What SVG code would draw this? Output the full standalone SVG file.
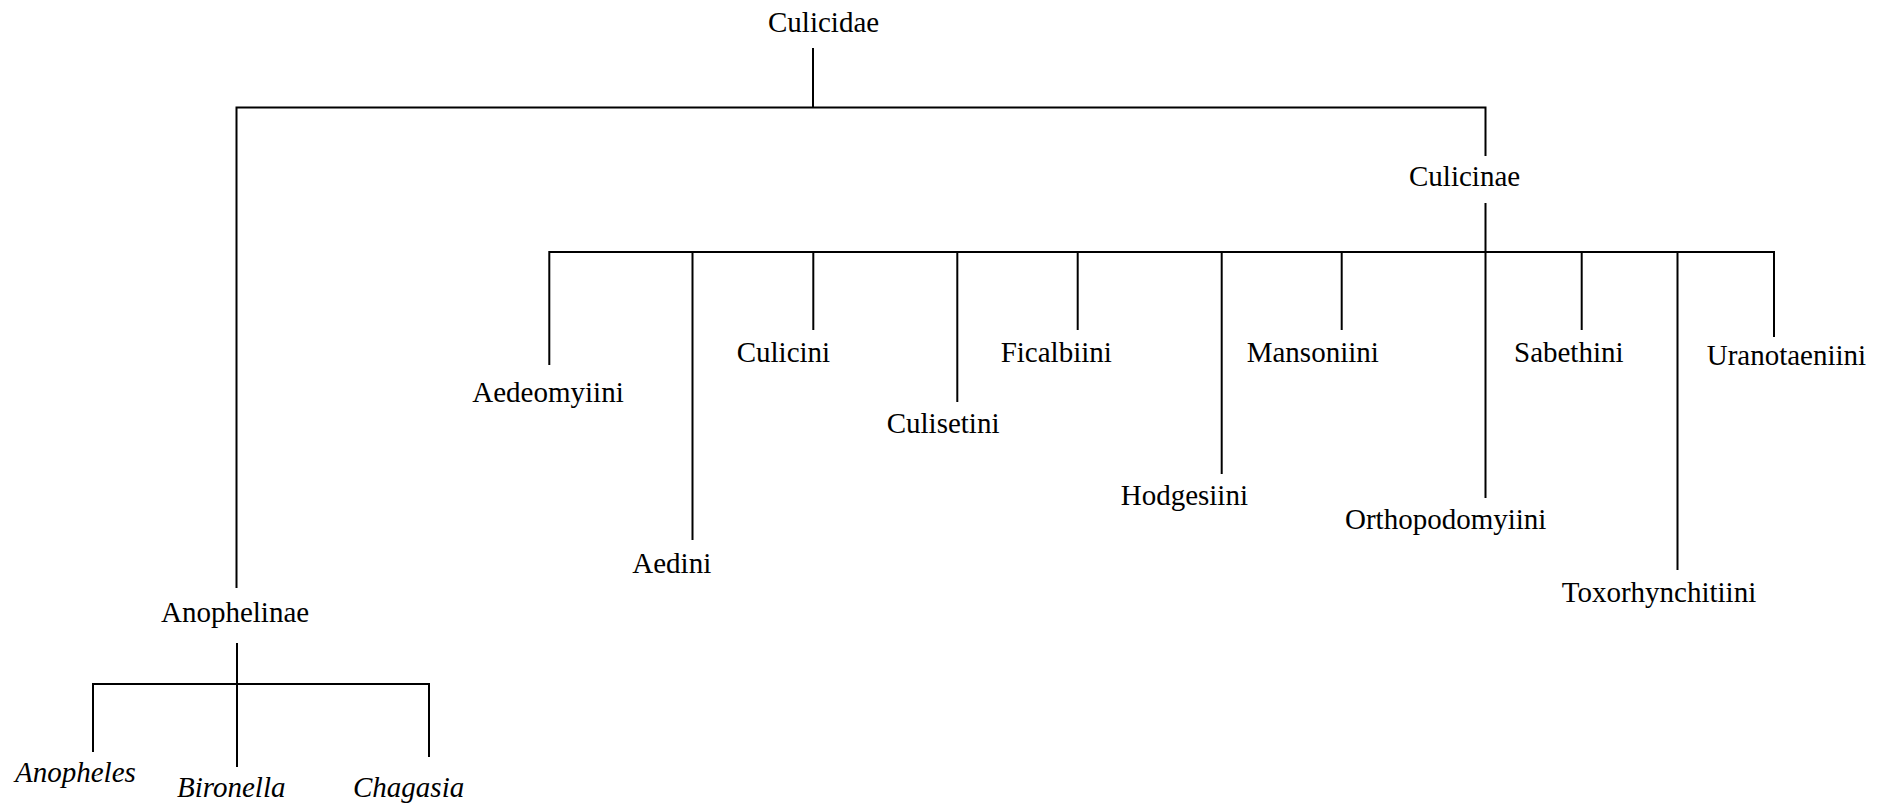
<svg xmlns="http://www.w3.org/2000/svg" width="1892" height="811" viewBox="0 0 1892 811">
<style>
.l{fill:none;stroke:#000;stroke-width:2;stroke-linejoin:miter;stroke-linecap:butt}
.t{font-family:"Liberation Serif","Times New Roman",serif;font-size:29px;fill:#000}
.i{font-style:italic}
</style>
<rect width="1892" height="811" fill="#fff"/>
<g id="connectors">
<path class="l" d="M813,48 V107.5"/>
<path class="l" d="M236.5,588 V107.5 H1485.5 V156"/>
<path class="l" d="M1485.5,203 V498"/>
<path class="l" d="M549.3,365 V252 H1774 V337"/>
<path class="l" d="M692.5,252 V540"/>
<path class="l" d="M813.3,252 V330"/>
<path class="l" d="M957.3,252 V402"/>
<path class="l" d="M1077.7,252 V330"/>
<path class="l" d="M1221.7,252 V474"/>
<path class="l" d="M1341.7,252 V330"/>
<path class="l" d="M1581.7,252 V330"/>
<path class="l" d="M1677.5,252 V570"/>
<path class="l" d="M237,643 V767"/>
<path class="l" d="M93,752 V684 H429 V757"/>
</g>
<g id="culicidae"><text class="t" x="768" y="32">Culicidae</text></g>
<g id="culicinae"><text class="t" x="1409" y="186">Culicinae</text></g>
<g id="anophelinae"><text class="t" x="161" y="621.5">Anophelinae</text></g>
<g id="anopheles"><text class="t i" x="15" y="782">Anopheles</text></g>
<g id="bironella"><text class="t i" x="177" y="797">Bironella</text></g>
<g id="chagasia"><text class="t i" x="353" y="797">Chagasia</text></g>
<g id="aedeomyiini"><text class="t" x="472.3" y="402">Aedeomyiini</text></g>
<g id="aedini"><text class="t" x="632.3" y="573.3">Aedini</text></g>
<g id="culicini"><text class="t" x="736.7" y="362">Culicini</text></g>
<g id="culisetini"><text class="t" x="886.7" y="433.3">Culisetini</text></g>
<g id="ficalbiini"><text class="t" x="1000.7" y="362">Ficalbiini</text></g>
<g id="hodgesiini"><text class="t" x="1120.7" y="505">Hodgesiini</text></g>
<g id="mansoniini"><text class="t" x="1246.7" y="362">Mansoniini</text></g>
<g id="orthopodomyiini"><text class="t" x="1345" y="529">Orthopodomyiini</text></g>
<g id="sabethini"><text class="t" x="1514" y="362">Sabethini</text></g>
<g id="toxorhynchitiini"><text class="t" x="1561.7" y="601.7">Toxorhynchitiini</text></g>
<g id="uranotaeniini"><text class="t" x="1706.7" y="365">Uranotaeniini</text></g>
</svg>
